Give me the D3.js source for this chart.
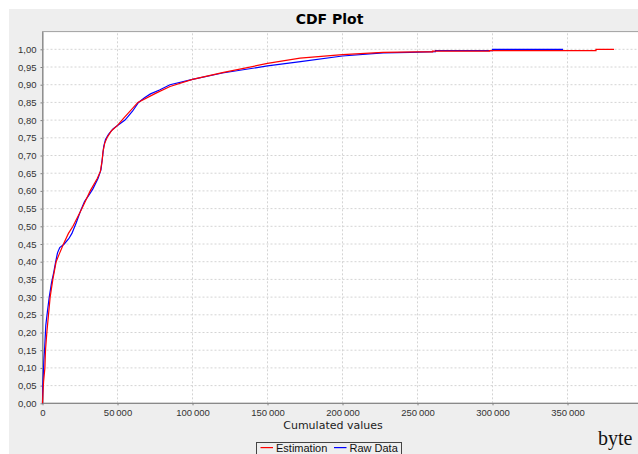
<!DOCTYPE html>
<html>
<head>
<meta charset="utf-8">
<script src="https://d3js.org/d3.v7.min.js"></script>
<style>
  body { margin: 0; background: #ffffff; }
  svg { display: block; }
</style>
</head>
<body>
<svg id="chart" width="638" height="454"></svg>
<script>
// estimation curve (bytes, cumulative probability)
const estX = [0, 300, 700, 1600, 2000, 2900, 4000, 5100, 6900, 9100, 11000, 14000, 17300, 20300, 26300, 31800, 36500, 38600, 39800, 40300, 41500, 43000, 46000, 50000, 54000, 63600, 76000, 85000, 100000, 120700, 150000, 171700, 200000, 227000, 250000, 260000, 260000, 298000, 298000, 369000, 369000, 381000];
const estP = [0, 0.03, 0.06, 0.10, 0.15, 0.20, 0.25, 0.30, 0.35, 0.40, 0.42, 0.45, 0.48, 0.50, 0.55, 0.60, 0.635, 0.655, 0.687, 0.71, 0.735, 0.75, 0.77, 0.785, 0.805, 0.85, 0.877, 0.895, 0.915, 0.935, 0.96, 0.975, 0.985, 0.9915, 0.993, 0.993, 0.995, 0.995, 0.9965, 0.9965, 1.0, 1.0];

// raw data curve
const rawX = [0, 200, 600, 900, 1500, 2200, 3300, 4500, 6000, 7500, 8800, 10000, 11500, 14500, 17500, 19600, 22500, 25500, 28000, 30500, 33500, 37000, 39000, 40000, 40800, 42000, 44000, 47000, 50000, 55000, 60000, 64000, 68000, 72000, 78000, 85000, 100000, 120000, 150000, 172000, 200000, 227000, 245000, 262000, 262000, 300000, 300000, 347000];
const rawP = [0, 0.05, 0.09, 0.12, 0.16, 0.22, 0.26, 0.30, 0.34, 0.37, 0.40, 0.425, 0.44, 0.45, 0.465, 0.48, 0.51, 0.545, 0.57, 0.585, 0.605, 0.635, 0.66, 0.695, 0.725, 0.745, 0.76, 0.775, 0.785, 0.80, 0.825, 0.85, 0.863, 0.874, 0.885, 0.90, 0.915, 0.933, 0.953, 0.965, 0.981, 0.99, 0.9915, 0.9935, 0.996, 0.996, 1.0, 1.0];

const xTicks = [0, 50000, 100000, 150000, 200000, 250000, 300000, 350000];
const yTicks = d3.range(0, 21).map(i => i * 0.05);
const seriesNames = ["Estimation", "Raw Data"];
const seriesColors = ["#ff0000", "#0000ff"];

const loc = d3.formatLocale({decimal: ",", thousands: "\u2009", grouping: [3], currency: ["", ""]});
const fmtY = loc.format(".2f");
const fmtX = loc.format(",d");

const svg = d3.select("#chart");

// gray chart background
svg.append("rect").attr("x", 9).attr("y", 9).attr("width", 640).attr("height", 450).style("fill", "#eeeeee");

const x = d3.scaleLinear().domain([0, 400000]).range([42.5, 642.5]);
const y = d3.scaleLinear().domain([0, 1.05]).range([403.3, 31.6]);

// plot area
svg.append("rect").attr("x", x(0)).attr("y", y(1.05)).attr("width", x(400000) - x(0)).attr("height", y(0) - y(1.05))
    .style("fill", "#ffffff").style("stroke", "#a0a0a0").style("stroke-width", 1);

// grid lines
svg.append("g").selectAll("line").data(xTicks.slice(1)).enter().append("line")
    .attr("x1", d => x(d)).attr("x2", d => x(d)).attr("y1", y(0)).attr("y2", y(1.05))
    .style("stroke", "#d4d4d4").style("stroke-dasharray", "2,2").style("stroke-width", 1);
svg.append("g").selectAll("line").data(yTicks.slice(1)).enter().append("line")
    .attr("x1", x(0)).attr("x2", 640).attr("y1", d => y(d)).attr("y2", d => y(d))
    .style("stroke", "#d4d4d4").style("stroke-dasharray", "2,2").style("stroke-width", 1);

// axes
const xAxis = svg.append("g").attr("transform", "translate(0," + y(0) + ")")
    .call(d3.axisBottom(x).tickValues(xTicks).tickFormat(fmtX).tickSize(2).tickSizeOuter(0).tickPadding(4));
const yAxis = svg.append("g").attr("transform", "translate(" + x(0) + ",0)")
    .call(d3.axisLeft(y).tickValues(yTicks).tickFormat(fmtY).tickSize(2).tickSizeOuter(0).tickPadding(4));
[xAxis, yAxis].forEach(a => {
    a.select(".domain").style("stroke", "#808080");
    a.selectAll(".tick line").style("stroke", "#808080");
    a.selectAll("text").style("font-family", "Liberation Sans, Arial, sans-serif").style("font-size", "9.5px").style("fill", "#333333");
});
xAxis.select(".domain").attr("d", "M" + x(0) + ",0H640");

// curves
const line = d3.line().x(d => x(d[0])).y(d => y(d[1]));
const rawPts = rawX.map((v, i) => [v, rawP[i]]);
const estPts = estX.map((v, i) => [v, estP[i]]);
svg.append("path").datum(rawPts).attr("d", line)
    .style("fill", "none").style("stroke", seriesColors[1]).style("stroke-width", 1.2);
svg.append("path").datum(estPts).attr("d", line)
    .style("fill", "none").style("stroke", seriesColors[0]).style("stroke-width", 1.2);

// title and axis label
svg.append("text").attr("x", 329.5).attr("y", 24).attr("text-anchor", "middle")
    .style("font-family", "DejaVu Sans, sans-serif").style("font-weight", "bold").style("font-size", "14px")
    .text("CDF Plot");
svg.append("text").attr("x", 333).attr("y", 429).attr("text-anchor", "middle")
    .style("font-family", "DejaVu Sans, sans-serif").style("font-size", "11px").style("fill", "#222")
    .text("Cumulated values");

// legend
svg.append("rect").attr("x", 256.5).attr("y", 442.5).attr("width", 145).attr("height", 20)
    .style("fill", "#eeeeee").style("stroke", "#444444").style("stroke-width", 1);
const legX = [260.5, 334];
seriesNames.forEach((name, i) => {
    svg.append("rect").attr("x", legX[i]).attr("y", 447).attr("width", 12.5).attr("height", 1.2)
        .style("fill", seriesColors[i]);
    svg.append("text").attr("x", legX[i] + 15.5).attr("y", 451.5)
        .style("font-family", "Liberation Sans, Arial, sans-serif").style("font-size", "11px").style("fill", "#111")
        .text(name);
});

// unit
svg.append("text").attr("x", 598).attr("y", 445)
    .style("font-family", "Liberation Serif, serif").style("font-size", "20px").style("fill", "#111")
    .text("byte");
</script>
</body>
</html>
